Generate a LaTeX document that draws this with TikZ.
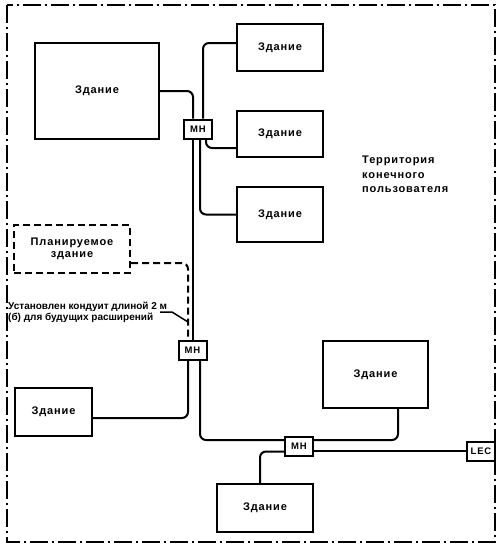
\documentclass[tikz,border=0pt]{standalone}
\usepackage{fontspec}
\newfontfamily\bldfont[LetterSpace=8]{Liberation Sans}
\newfontfamily\notefont{Liberation Sans}

\begin{document}
\begin{tikzpicture}[x=1pt,y=-1pt,
    building/.style={draw,line width=2pt,inner sep=0pt,align=center,
        font=\bldfont\bfseries\fontsize{11}{11.5}\selectfont},
    hole/.style={draw,line width=2pt,inner sep=0pt,minimum width=28pt,minimum height=19pt,
        font=\bldfont\bfseries\fontsize{9.5}{10}\selectfont},
    duct/.style={line width=2pt,rounded corners=6pt},
    plan/.style={dash pattern=on 7pt off 4pt}]
        \useasboundingbox (0,0) rectangle (500,550);
        % border of the site
        \draw[line width=2pt,dash pattern=on 18pt off 4pt on 2pt off 4pt] (7,5) rectangle (495,542);
        % buildings
        \node[building,minimum width=124pt,minimum height=96pt] (b1) at (97,91) {Здание};
        \node[building,minimum width=86pt,minimum height=47pt] (b2) at (280,47.5) {Здание};
        \node[building,minimum width=86pt,minimum height=46pt] (b3) at (280,134) {Здание};
        \node[building,minimum width=86pt,minimum height=55pt] (b4) at (280,214.5) {Здание};
        \node[building,plan,minimum width=116pt,minimum height=48pt] (b0) at (72,249) {Планируемое\\здание};
        \node[building,minimum width=77pt,minimum height=48pt] (b5) at (53.5,412) {Здание};
        \node[building,minimum width=105pt,minimum height=67pt] (b6) at (375.5,374.5) {Здание};
        \node[building,minimum width=96pt,minimum height=48pt] (b7) at (265,508) {Здание};
        % manholes
        \node[hole] (mh1) at (198,129) {MH};
        \node[hole] (mh2) at (192.5,350) {MH};
        \node[hole] (mh3) at (299,446.5) {MH};
        \node[hole] (lec) at (481,451) {LEC};
        % texts
        \node[anchor=north west,inner sep=0pt,align=left,
            font=\bldfont\bfseries\fontsize{11}{14.5}\selectfont] (area) at (362,156) {Территория\\конечного\\пользователя};
        \node[anchor=north west,inner sep=0pt,align=left,
            font=\notefont\bfseries\fontsize{10}{11}\selectfont] (note) at (8,302) {Установлен кондуит длиной 2 м\\(б) для будущих расширений};
        \coordinate (lead) at (160,312);
        \coordinate (tip) at (188,322);
        % cables
        \draw[duct] (b1.east) -| ([xshift=-5pt]mh1.north);
        \draw[duct] ([xshift=5pt]mh1.north) |- ([yshift=4.5pt]b2.west);
        \draw[duct] ([xshift=8pt]mh1.south) |- ([yshift=-14pt]b3.west);
        \draw[duct] ([xshift=2pt]mh1.south) |- (b4.west);
        \draw[duct] ([xshift=-5pt]mh1.south) -- ([xshift=-5pt]mh1.south |- mh2.north);
        \draw[duct,plan] ([yshift=-14pt]b0.east) -| ([xshift=-4.5pt]mh2.north);
        \draw[line width=1.5pt] (lead) -- ++(12,0) -- (tip);
        \draw[duct] ([xshift=-4.5pt]mh2.south) |- ([yshift=-6pt]b5.east);
        \draw[duct] ([xshift=7.5pt]mh2.south) |- ([yshift=6.5pt]mh3.west);
        \draw[duct] ([yshift=6.5pt]mh3.east) -| ([xshift=22.5pt]b6.south);
        \draw[duct] (lec.west) -- (lec.west -| mh3.east);
        \draw[duct] ([yshift=-5pt]mh3.west) -| ([xshift=-5pt]b7.north);
\end{tikzpicture}
\end{document}
